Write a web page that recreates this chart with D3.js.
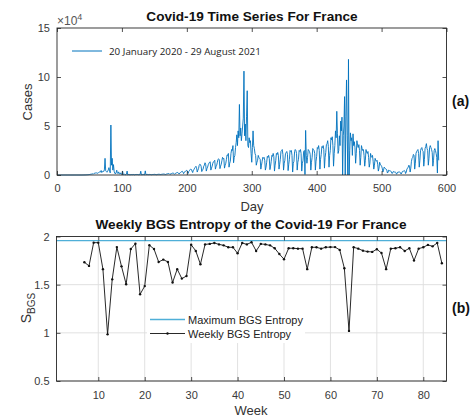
<!DOCTYPE html>
<html><head><meta charset="utf-8">
<script src="https://cdn.jsdelivr.net/npm/d3@7"></script>
<style>
body{margin:0;background:#fff}
svg{display:block;font-family:"Liberation Sans",Arial,Helvetica,sans-serif}
</style>
</head><body>
<svg id="c" width="471" height="419"></svg>
<script>
// ---------- DATA ----------
// daily Covid-19 cases in France (thousands), day 1 = 20 January 2020
const dailyCasesThousands = [
0,0,0,0,0,0,0,
0,0,0,0,0,0,0,
0,0,0,0,0,0,0,
0,0,0,0,0,0,0,
0,0,0,0,0,0,0,
0,0,0,0.01,0.02,0.04,0.05,
0.1,0.1,0.15,0.2,0.25,0.3,0.4,
0.5,0.6,0.8,0.9,1.1,1.2,0.9,
1.6,1.8,1.9,2.4,2.1,1.9,1.7,
2.5,2.8,3.3,3.0,4.6,2.5,3.2,
4.1,3.6,5.2,17.0,4.3,3.6,2.8,
3.8,5.2,7.5,4.3,2.2,51.0,10.0,
17.0,5.0,10.6,3.8,2.0,1.0,2.3,
4.9,2.1,1.4,3.2,1.5,0.9,2.2,
1.1,0.4,4.1,0.6,0.5,1.0,0.3,
0.4,0.8,4.0,0.2,0.5,0.6,0.3,
0.3,0.5,0.4,0.3,0.6,0.5,0.2,
0.3,0.5,0.4,0.6,0.5,0.4,0.3,
0.4,0.5,3.9,0.3,0.5,0.4,0.6,
0.5,0.3,4.2,0.4,0.5,0.6,0.5,
0.4,0.5,0.6,0.5,0.4,0.3,0.5,
0.5,0.6,0.7,0.6,0.5,0.3,0.6,
0.6,0.7,0.8,0.7,0.6,0.4,0.7,
0.8,0.9,1.0,0.9,0.8,0.5,0.9,
1.0,1.2,1.4,1.5,1.3,0.6,1.1,
1.4,1.6,1.9,2.0,1.5,0.7,1.5,
1.8,2.2,2.5,2.6,1.9,1.0,2.0,
2.3,3.0,3.5,3.8,2.9,1.4,2.8,
3.2,4.0,4.5,4.8,3.5,1.6,3.6,
4.5,5.4,6.1,5.7,4.0,2.5,4.9,
5.4,7.0,7.9,8.9,7.6,3.0,4.9,
6.5,9.8,11.0,10.6,8.9,3.5,5.0,
6.0,9.0,10.0,12.5,11.0,4.0,6.5,
8.0,10.5,12.0,13.0,13.5,5.0,7.0,
9.0,12.0,13.5,14.0,15.0,6.0,8.5,
10.0,13.0,16.0,16.5,15.5,6.5,9.0,
11.0,14.5,18.0,16.5,17.0,7.0,10.0,
12.0,16.0,20.5,20.0,22.0,8.0,12.0,
14.0,22.0,26.0,25.0,30.0,12.5,18.0,
20.0,28.0,33.0,41.0,30.0,45.0,38.0,
72.0,40.0,48.0,35.0,42.0,50.0,58.0,
106.0,40.0,52.0,35.0,60.0,86.0,30.0,
28.0,38.0,33.0,35.0,22.0,13.0,28.0,
45.0,30.0,27.0,22.0,20.0,10.0,13.0,
15.0,20.0,18.0,17.0,16.0,6.0,10.0,
14.0,18.0,17.0,18.0,15.0,5.0,8.0,
13.0,19.0,18.0,20.0,17.0,5.5,9.0,
14.0,20.0,19.0,22.0,19.0,4.0,10.0,
15.0,22.0,21.0,23.0,20.0,6.0,11.0,
16.0,24.0,25.0,26.0,21.0,5.0,12.0,
15.0,22.0,23.0,24.0,21.0,4.5,11.0,
16.0,25.0,24.0,25.0,20.0,3.0,12.0,
14.0,24.0,26.0,25.0,22.0,5.0,13.0,
16.0,25.0,24.0,26.0,22.0,4.0,12.0,
15.0,24.0,25.0,0.5,45.5,20.0,12.0,
18.0,26.0,25.0,24.0,21.0,5.0,13.0,
18.0,27.0,26.0,25.0,22.0,5.0,14.0,
19.0,28.0,27.0,30.0,25.0,6.0,16.0,
21.0,29.0,28.0,30.0,26.0,7.0,18.0,
23.0,31.0,32.0,35.0,29.0,8.0,20.0,
25.0,38.0,36.0,39.0,30.0,9.0,22.0,
30.0,45.0,38.0,65.0,42.0,22.0,25.0,
40.0,30.0,55.0,45.0,59.0,0.0,40.0,
50.0,80.0,0.0,60.0,97.0,40.0,0.0,
118.0,0.0,25.0,43.0,35.0,38.0,20.0,
42.0,30.0,34.0,28.0,12.0,22.0,35.0,
30.0,28.0,31.0,25.0,10.0,18.0,30.0,
27.0,25.0,26.0,20.0,9.0,15.0,26.0,
23.0,22.0,24.0,18.0,8.0,12.0,22.0,
19.0,18.0,20.0,14.0,6.0,10.0,17.0,
15.0,14.0,15.0,11.0,4.0,7.0,13.0,
11.0,10.0,9.0,7.0,3.0,5.0,8.0,
7.0,6.5,6.0,5.0,2.0,3.0,5.0,
4.5,4.0,4.0,3.5,1.5,2.0,3.5,
3.5,3.0,3.0,2.5,1.0,1.5,3.0,
3.0,3.0,3.0,2.5,1.0,2.0,3.5,
4.0,4.0,4.5,4.0,1.5,3.0,6.0,
7.0,8.0,10.0,9.0,3.0,7.0,14.0,
17.0,18.0,21.0,20.0,6.0,12.0,22.0,
24.0,25.0,26.0,22.0,8.0,15.0,25.0,
27.0,28.0,25.0,24.0,9.0,16.0,27.0,
29.0,32.0,27.0,25.0,10.0,17.0,28.0,
30.0,28.0,26.0,23.0,9.0,15.0,25.0,
27.0,25.0,22.0,18.0,2.0,35.0,15.0
];

// weekly BGS entropy, first value = week 7
const firstEntropyWeek = 7;
const weeklyEntropy = [
1.733,1.695,1.936,1.936,1.661,0.984,1.555,1.890,1.690,1.505,
1.870,1.926,1.400,1.485,1.910,1.870,1.736,1.760,1.736,1.522,
1.661,1.563,1.590,1.915,1.850,1.712,1.918,1.923,1.933,1.918,
1.908,1.888,1.888,1.826,1.933,1.918,1.940,1.850,1.923,1.918,
1.908,1.878,1.818,1.764,1.878,1.878,1.874,1.874,1.661,1.888,
1.888,1.874,1.888,1.890,1.890,1.861,1.671,1.020,1.888,1.874,
1.853,1.843,1.840,1.868,1.828,1.661,1.874,1.878,1.888,1.850,
1.878,1.750,1.874,1.888,1.913,1.898,1.933,1.723
];
const maxEntropy = 1.958;

const topXTicks = [0,100,200,300,400,500,600];
const topYTicks = [0,50,100,150];
const topYTickLabels = ["0","5","10","15"];
const botXTicks = [10,20,30,40,50,60,70,80];
const botYTicks = [0.5,1,1.5,2];
const botYTickLabels = ["0.5","1","1.5","2"];

const topTitle = "Covid-19 Time Series For France";
const botTitle = "Weekly BGS Entropy of the Covid-19 For France";
const topLegend = "20 January 2020 - 29 August 2021";
const botLegend = ["Maximum BGS Entropy","Weekly BGS Entropy"];

// ---------- DRAW ----------
const svg = d3.select("#c");
const axisCol = "#262626", tickCol = "#3a3a3a";
const blue = "#0072BD", lightBlue = "#4FAFD8";

// ===== top chart =====
const xA = d3.scaleLinear().domain([0,600]).range([57,446.5]);
const yA = d3.scaleLinear().domain([0,150]).range([175,28]);

svg.append("text").attr("x",252).attr("y",21).attr("text-anchor","middle")
  .attr("font-size",13.6).attr("font-weight","bold").attr("fill","#111").text(topTitle);

const gA = svg.append("g");
gA.append("path").datum(dailyCasesThousands)
  .attr("fill","none").attr("stroke",blue).attr("stroke-width",0.9).attr("stroke-linejoin","round")
  .attr("d", d3.line().x((d,i)=>xA(i+1)).y(d=>yA(d)));

function styleAxis(g){
  g.select(".domain").remove();
  g.selectAll(".tick line").attr("stroke",axisCol).attr("stroke-width",0.8);
  g.selectAll(".tick text").attr("fill",tickCol).attr("font-size",11).attr("font-family","Liberation Sans, Arial, sans-serif");
}
svg.append("g").attr("transform","translate(0,175)")
  .call(d3.axisBottom(xA).tickValues(topXTicks).tickSizeInner(-4).tickSizeOuter(0).tickPadding(9).tickFormat(d3.format("d")))
  .call(styleAxis);
svg.append("g").attr("transform","translate(0,28)")
  .call(d3.axisTop(xA).tickValues(topXTicks).tickSizeInner(-4).tickSizeOuter(0).tickFormat(""))
  .call(styleAxis);
svg.append("g").attr("transform","translate(57,0)")
  .call(d3.axisLeft(yA).tickValues(topYTicks).tickSizeInner(-4).tickSizeOuter(0).tickPadding(7).tickFormat((d,i)=>topYTickLabels[i]))
  .call(styleAxis);
svg.append("g").attr("transform","translate(446.5,0)")
  .call(d3.axisRight(yA).tickValues(topYTicks).tickSizeInner(-4).tickSizeOuter(0).tickFormat(""))
  .call(styleAxis);
svg.append("rect").attr("x",57).attr("y",28).attr("width",446.5-57).attr("height",175-28)
  .attr("fill","none").attr("stroke",axisCol).attr("stroke-width",0.9);

// exponent
const ex = svg.append("text").attr("x",57).attr("y",24.5).attr("font-size",12).attr("fill","#555");
ex.append("tspan").text("×10");
ex.append("tspan").attr("dy",-4.5).attr("font-size",9).text("4");

// legend top
svg.append("line").attr("x1",72).attr("x2",102).attr("y1",51).attr("y2",51).attr("stroke",blue).attr("stroke-width",1);
svg.append("text").attr("x",109).attr("y",54.5).attr("font-size",9.8).attr("fill","#222")
  .attr("font-family","'Open Sans','Liberation Sans',sans-serif").text(topLegend);

// labels
svg.append("text").attr("transform","translate(32,102) rotate(-90)").attr("text-anchor","middle")
  .attr("font-size",13).attr("fill","#333").text("Cases");
svg.append("text").attr("x",252).attr("y",211).attr("text-anchor","middle").attr("font-size",13).attr("fill","#333").text("Day");
svg.append("text").attr("x",452).attr("y",106).attr("font-size",14).attr("font-weight","bold").attr("fill","#111").text("(a)");

// ===== bottom chart =====
const xB = d3.scaleLinear().domain([1,85]).range([56.5,446.5]);
const yB = d3.scaleLinear().domain([0.5,2]).range([381,236.5]);

svg.append("text").attr("x",251).attr("y",229).attr("text-anchor","middle")
  .attr("font-size",13.6).attr("font-weight","bold").attr("fill","#111").text(botTitle);

const gB = svg.append("g");
// grid
gB.selectAll(".gx").data(botXTicks).join("line")
  .attr("x1",d=>xB(d)).attr("x2",d=>xB(d)).attr("y1",236.5).attr("y2",381)
  .attr("stroke","#dedede").attr("stroke-width",0.9);
gB.selectAll(".gy").data(botYTicks).join("line")
  .attr("x1",56.5).attr("x2",446.5).attr("y1",d=>yB(d)).attr("y2",d=>yB(d))
  .attr("stroke","#dedede").attr("stroke-width",0.9);

// max entropy line
gB.append("line").attr("x1",xB(1)).attr("x2",xB(85)).attr("y1",yB(maxEntropy)).attr("y2",yB(maxEntropy))
  .attr("stroke",lightBlue).attr("stroke-width",1.3);
// weekly
gB.append("path").datum(weeklyEntropy).attr("fill","none").attr("stroke","#111").attr("stroke-width",0.9)
  .attr("d", d3.line().x((d,i)=>xB(firstEntropyWeek+i)).y(d=>yB(d)));
gB.selectAll(".pt").data(weeklyEntropy).join("circle")
  .attr("cx",(d,i)=>xB(firstEntropyWeek+i)).attr("cy",d=>yB(d)).attr("r",1.2).attr("fill","#111");

svg.append("g").attr("transform","translate(0,381)")
  .call(d3.axisBottom(xB).tickValues(botXTicks).tickSizeInner(-4).tickSizeOuter(0).tickPadding(10).tickFormat(d3.format("d")))
  .call(styleAxis);
svg.append("g").attr("transform","translate(0,236.5)")
  .call(d3.axisTop(xB).tickValues(botXTicks).tickSizeInner(-4).tickSizeOuter(0).tickFormat(""))
  .call(styleAxis);
svg.append("g").attr("transform","translate(56.5,0)")
  .call(d3.axisLeft(yB).tickValues(botYTicks).tickSizeInner(-4).tickSizeOuter(0).tickPadding(7).tickFormat((d,i)=>botYTickLabels[i]))
  .call(styleAxis);
svg.append("g").attr("transform","translate(446.5,0)")
  .call(d3.axisRight(yB).tickValues(botYTicks).tickSizeInner(-4).tickSizeOuter(0).tickFormat(""))
  .call(styleAxis);

// legend bottom
svg.append("rect").attr("x",147).attr("y",310).attr("width",158).attr("height",33).attr("fill","#fff");
svg.append("line").attr("x1",150).attr("x2",185).attr("y1",319.5).attr("y2",319.5).attr("stroke",lightBlue).attr("stroke-width",1.3);
svg.append("line").attr("x1",150).attr("x2",185).attr("y1",333.5).attr("y2",333.5).attr("stroke","#111").attr("stroke-width",0.9);
svg.append("circle").attr("cx",167.5).attr("cy",333.5).attr("r",1.2).attr("fill","#111");
svg.append("text").attr("x",188).attr("y",323.5).attr("font-size",11).attr("fill","#222").text(botLegend[0]);
svg.append("text").attr("x",188).attr("y",337.5).attr("font-size",11).attr("fill","#222").text(botLegend[1]);

svg.append("rect").attr("x",56.5).attr("y",236.5).attr("width",390).attr("height",381-236.5)
  .attr("fill","none").attr("stroke",axisCol).attr("stroke-width",0.9);

// labels
const sl = svg.append("text").attr("transform","translate(31,308) rotate(-90)").attr("text-anchor","middle")
  .attr("font-size",14).attr("fill","#333");
sl.append("tspan").text("S");
sl.append("tspan").attr("dy",4).attr("font-size",10).text("BGS");
svg.append("text").attr("x",251).attr("y",415).attr("text-anchor","middle").attr("font-size",13).attr("fill","#333").text("Week");
svg.append("text").attr("x",452).attr("y",313).attr("font-size",14).attr("font-weight","bold").attr("fill","#111").text("(b)");
</script>
</body></html>
